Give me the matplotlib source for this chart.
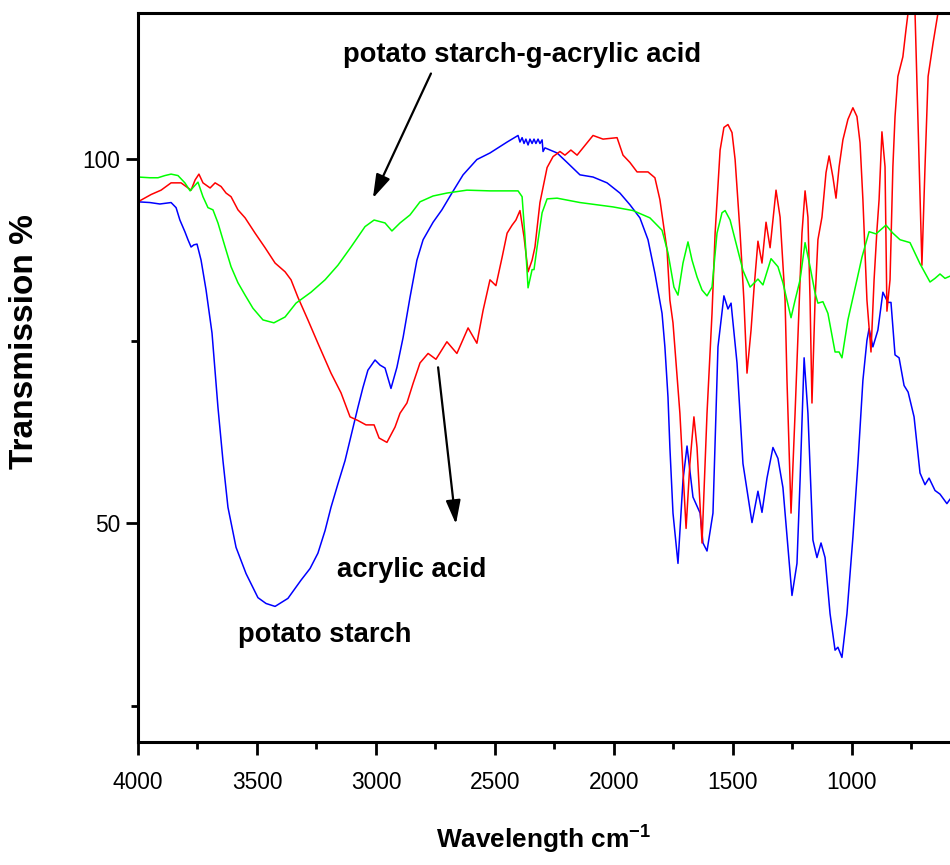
import matplotlib
matplotlib.use("Agg")
import matplotlib.pyplot as plt
from matplotlib import font_manager
from matplotlib.ticker import MultipleLocator, FixedLocator

# ---------------- data ----------------
starch_wn = [4000, 3950, 3908, 3861, 3840, 3824, 3803, 3790, 3777, 3765, 3752, 3735, 3714,
             3689, 3664, 3643, 3622, 3588, 3546, 3496, 3462, 3424, 3370, 3315, 3277, 3244,
             3214, 3189, 3160, 3130, 3105, 3076, 3055, 3034, 3004, 2983, 2962, 2937, 2912,
             2886, 2857, 2828, 2802, 2760,
             2723, 2681, 2634, 2576, 2521, 2449, 2403, 2395, 2386, 2378, 2370, 2361, 2353,
             2344, 2336, 2328, 2319, 2311, 2302, 2298, 2290, 2239, 2197, 2143, 2088, 2029,
             1975, 1933, 1891, 1857, 1828, 1798, 1786, 1773, 1765, 1752, 1731, 1710, 1693,
             1668, 1638, 1626, 1609, 1584, 1563, 1538, 1521, 1508, 1483, 1458, 1420, 1395,
             1378, 1357, 1332, 1311, 1290, 1269, 1252, 1231, 1218, 1201, 1185, 1164, 1147,
             1130, 1113, 1092, 1071, 1059, 1042, 1021, 996, 975, 954, 937, 928, 912, 891,
             870, 849, 836, 819, 802, 781, 764, 739, 714, 693, 676, 651, 630, 601, 588]
starch_t = [94.1, 94.0, 93.8, 94.0, 93.3, 91.6, 90.0, 88.9, 87.9, 88.2, 88.3, 86.1, 82.0,
            76.1, 65.9, 58.6, 52.2, 46.7, 43.1, 39.8, 39.0, 38.6, 39.7, 42.2, 43.8, 45.9,
            49.0, 52.2, 55.4, 58.6, 62.0, 65.9, 68.6, 71.0, 72.4, 71.7, 71.3, 68.5, 71.4,
            75.5, 81.0, 86.1, 88.9, 91.3,
            93.0, 95.3, 97.8, 99.9, 100.8, 102.3, 103.2, 102.3, 102.9, 102.1, 102.7, 101.9, 102.7,
            102.1, 102.7, 102.1, 102.7, 102.1, 102.6, 101.0, 101.5, 100.8, 99.5, 97.8, 97.5, 96.7,
            95.3, 93.7, 91.9, 88.9, 84.3, 78.8, 74.2, 67.3, 60.4, 51.4, 44.5, 55.9, 60.6,
            53.6, 51.4, 47.3, 46.2, 51.4, 74.2, 81.2, 79.4, 80.2, 72.0, 58.2, 50.1, 54.4,
            51.5, 56.2, 60.4, 58.9, 54.9, 46.7, 40.1, 44.5, 55.9, 72.7, 65.1, 47.7, 45.3,
            47.3, 45.3, 37.6, 32.6, 33.0, 31.6, 37.6, 48.1, 58.2, 69.6, 75.1, 76.7, 74.2, 76.5,
            81.7, 80.3, 80.3, 73.1, 72.7, 68.9, 68.0, 64.6, 56.9, 55.3, 56.2, 54.5, 54.0, 52.7, 53.3]

acrylic_wn = [4000, 3945, 3903, 3861, 3819, 3790, 3777, 3760, 3744, 3727, 3697, 3676, 3651,
              3630, 3609, 3580, 3550, 3508, 3466, 3424, 3382, 3357, 3328, 3286, 3244, 3189,
              3147, 3109, 3076, 3042, 3008, 2987, 2954, 2920, 2899, 2870, 2844, 2815, 2781,
              2748, 2702, 2660, 2613, 2576, 2550, 2521, 2496, 2470, 2449, 2428, 2412, 2395,
              2378, 2361, 2344, 2332, 2311, 2281, 2256, 2227, 2206, 2181, 2155, 2130, 2088,
              2046, 1987, 1962, 1933, 1903, 1857, 1828, 1807, 1777, 1765, 1752, 1723, 1697,
              1681, 1664, 1651, 1630, 1609, 1588, 1575, 1554, 1538, 1521, 1504, 1491, 1470,
              1454, 1441, 1424, 1412, 1395, 1378, 1361, 1344, 1319, 1302, 1281, 1273, 1256,
              1239, 1218, 1210, 1197, 1185, 1176, 1168, 1155, 1143, 1126, 1109, 1096, 1080,
              1067, 1054, 1038, 1017, 996, 979, 966, 954, 937, 920, 907, 895, 886, 874, 861,
              853, 840, 828, 819, 807, 786, 773, 764, 752, 743, 735, 727, 714, 706, 693, 680,
              659, 638, 622, 588]
acrylic_t = [94.1, 95.1, 95.7, 96.7, 96.7, 96.0, 95.7, 97.1, 97.9, 96.7, 96.0, 96.7, 96.2,
             95.3, 94.8, 93.0, 91.9, 89.8, 87.8, 85.7, 84.5, 83.4, 81.0, 77.9, 74.7, 70.6,
             67.9, 64.6, 64.1, 63.5, 63.5, 61.7, 61.1, 63.2, 65.1, 66.5, 69.2, 72.0, 73.3,
             72.5, 74.9, 73.3, 76.8, 74.7, 79.2, 83.4, 82.6, 86.5, 89.8, 90.9, 91.6, 92.9,
             89.3, 84.5, 86.1, 87.9, 94.0, 98.8, 100.3, 101.0, 100.5, 101.2, 100.5, 101.5, 103.2,
             102.7, 102.9, 100.5, 99.5, 98.2, 98.2, 97.4, 94.4, 87.5, 80.6, 77.5, 65.1, 49.3,
             58.2, 64.6, 60.4, 47.3, 65.1, 78.8, 89.8, 101.2, 104.3, 104.7, 103.6, 99.9, 89.8,
             80.6, 70.6, 76.5, 82.0, 88.7, 85.7, 91.3, 87.8, 95.7, 92.0, 80.6, 69.6, 51.4,
             65.1, 83.4, 89.8, 95.6, 92.0, 80.6, 66.5, 80.6, 88.9, 92.0, 98.1, 100.4, 97.5,
             94.6, 98.9, 102.6, 105.4, 107.0, 105.8, 102.2, 94.4, 80.6, 73.5, 83.4, 90.2, 94.4, 103.7, 98.9,
             79.1, 83.4, 98.9, 105.8, 111.3, 114.0, 117.7, 120.1, 123.9, 123.9, 120.1, 110.4, 94.4, 85.4, 98.9, 111.3,
             115.9, 120.1, 123.9, 127.3]

graft_wn = [4000, 3950, 3916, 3887, 3861, 3832, 3803, 3781, 3765, 3748, 3727, 3706, 3685,
            3664, 3634, 3609, 3580, 3550, 3517, 3475, 3429, 3382, 3336, 3273, 3214, 3160,
            3105, 3046, 3008, 2962, 2933, 2899, 2857, 2815, 2760, 2702, 2618, 2521, 2403,
            2386, 2374, 2361, 2344, 2336, 2323, 2302, 2281, 2239, 2143, 2004, 1920, 1849,
            1798, 1773, 1748, 1731, 1710, 1689, 1672, 1651, 1630, 1609, 1588, 1567, 1546,
            1533, 1512, 1483, 1458, 1428, 1407, 1395, 1374, 1340, 1311, 1290, 1273, 1256,
            1239, 1218, 1197, 1176, 1155, 1143, 1122, 1101, 1071, 1054, 1042, 1017, 979,
            958, 928, 899, 857, 828, 798, 756, 714, 672, 651, 630, 609, 588]
graft_t = [97.5, 97.4, 97.4, 97.7, 97.9, 97.7, 96.7, 95.6, 96.2, 96.8, 94.8, 93.3, 93.0,
           91.2, 87.9, 85.2, 83.0, 81.3, 79.5, 77.9, 77.5, 78.3, 80.2, 81.7, 83.4, 85.4,
           87.9, 90.7, 91.6, 91.2, 90.1, 91.2, 92.3, 94.1, 94.9, 95.3, 95.7, 95.6, 95.6,
           94.8, 89.3, 82.3, 84.8, 84.8, 87.9, 92.6, 94.5, 94.6, 94.0, 93.4, 92.9, 91.9,
           90.2, 87.1, 82.4, 81.3, 85.7, 88.6, 86.1, 83.8, 82.0, 81.2, 82.4, 89.8, 92.6,
           92.9, 91.6, 87.9, 84.7, 82.4, 83.1, 83.5, 82.7, 86.3, 85.2, 83.0, 80.6, 78.2,
           80.6, 83.4, 88.5, 85.2, 81.6, 80.2, 80.4, 78.8, 73.5, 73.5, 72.7, 77.9, 83.4,
           86.5, 90.0, 89.7, 90.9, 89.8, 88.9, 88.5, 85.6, 83.1, 83.6, 84.2, 83.6, 83.9]

series_labels = ["potato starch", "acrylic acid", "potato starch-g-acrylic acid"]
x_ticks = [4000, 3500, 3000, 2500, 2000, 1500, 1000]
y_ticks = [50, 100]

# ---------------- fonts ----------------
names = {f.name for f in font_manager.fontManager.ttflist}
NARROW = "Liberation Sans Narrow" if "Liberation Sans Narrow" in names else None
WIDE = "Liberation Sans"
narrow_fam = [NARROW, "DejaVu Sans"] if NARROW else [WIDE, "DejaVu Sans"]
nscale = 1.0 if NARROW else 0.82

plt.rcParams["font.family"] = narrow_fam
plt.rcParams["mathtext.fontset"] = "custom"
plt.rcParams["mathtext.rm"] = (NARROW or WIDE)
plt.rcParams["mathtext.bf"] = (NARROW or WIDE) + ":bold"

# ---------------- figure ----------------
fig = plt.figure(figsize=(9.5, 8.65), dpi=100)
ax = fig.add_axes([138 / 950, 1 - 742 / 865, 1 - 138 / 950, (742 - 13) / 865])

line_kw = dict(lw=1.1, solid_joinstyle="round")
ax.plot(starch_wn, starch_t, color="#0000FF", **line_kw)
ax.plot(acrylic_wn, acrylic_t, color="#FF0000", **line_kw)
ax.plot(graft_wn, graft_t, color="#00FF00", **line_kw)

ax.set_xlim(4000, 588)
ax.set_ylim(20, 120)

for s in ["left", "bottom", "top"]:
    ax.spines[s].set_linewidth(2.2)
ax.spines["right"].set_visible(False)

ax.xaxis.set_major_locator(FixedLocator(x_ticks))
ax.xaxis.set_minor_locator(MultipleLocator(250))
ax.yaxis.set_major_locator(FixedLocator(y_ticks))
ax.yaxis.set_minor_locator(FixedLocator([25, 75]))
ax.tick_params(axis="both", which="major", direction="out", length=9, width=2,
               labelsize=20 * nscale)
ax.tick_params(axis="both", which="minor", direction="out", length=5, width=2)
ax.tick_params(axis="x", which="major", pad=12)
ax.tick_params(axis="y", which="major", pad=4)
ax.tick_params(top=False, right=False, which="both")

ax.set_xlabel(r"Wavelength cm$^{\mathbf{-1}}$", fontsize=23 * nscale,
              fontweight="bold", labelpad=20)
ax.set_ylabel("Transmission %", fontsize=24, fontweight="bold",
              family=[WIDE, "DejaVu Sans"])
ax.yaxis.set_label_coords((40 - 138) / 812, (742 - 342) / 729)

ann_fs = 24 * nscale
ax.text(2386, 113.3, series_labels[2], ha="center", va="baseline",
        fontsize=ann_fs, fontweight="bold")
ax.text(2849, 42.6, series_labels[1], ha="center", va="baseline",
        fontsize=ann_fs, fontweight="bold")
ax.text(3216, 33.7, series_labels[0], ha="center", va="baseline",
        fontsize=ann_fs, fontweight="bold")

arrow = dict(arrowstyle="-|>,head_length=0.9,head_width=0.28", color="black",
             lw=1.6, mutation_scale=16, shrinkA=0, shrinkB=0)
ax.annotate("", xy=(3013, 94.6), xytext=(2769, 111.7), arrowprops=arrow)
ax.annotate("", xy=(2664, 49.9), xytext=(2739, 71.4), arrowprops=arrow)

fig.savefig("out.png", dpi=100)
